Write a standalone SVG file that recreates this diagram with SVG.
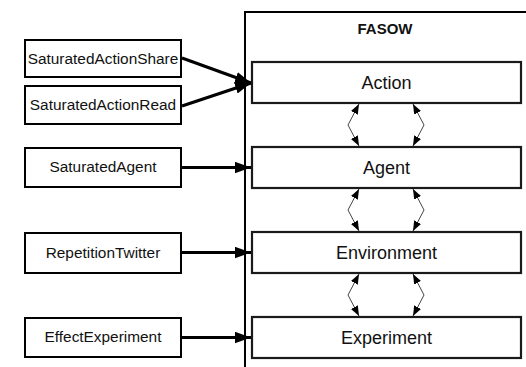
<svg xmlns="http://www.w3.org/2000/svg" width="526" height="367" viewBox="0 0 526 367">
<style>
  .lbox { fill: #fff; stroke: #000; stroke-width: 2; }
  .ibox { fill: #fff; stroke: #1a1a1a; stroke-width: 2.2; }
  .ltxt { font-family: "Liberation Sans", Arial, sans-serif; font-size: 15.4px; fill: #111; text-anchor: middle; }
  .itxt { font-family: "Liberation Sans", Arial, sans-serif; font-size: 18px; fill: #111; text-anchor: middle; }
  .title { font-family: "Liberation Sans", Arial, sans-serif; font-size: 15px; font-weight: bold; fill: #111; text-anchor: middle; }
  .thick { fill: none; stroke: #000; stroke-width: 3; marker-end: url(#big); }
  .thin { fill: none; stroke: #444; stroke-width: 1; marker-start: url(#small); marker-end: url(#small); }
</style>
<defs>
  <marker id="big" viewBox="0 0 14 10" refX="14" refY="5" markerWidth="16" markerHeight="12" markerUnits="userSpaceOnUse" orient="auto">
    <path d="M0,0 L14,5 L0,10 z" fill="#000"/>
  </marker>
  <marker id="small" viewBox="0 0 9 7" refX="9" refY="3.5" markerWidth="10" markerHeight="8" markerUnits="userSpaceOnUse" orient="auto-start-reverse">
    <path d="M0,0 L9,3.5 L0,7 z" fill="#000"/>
  </marker>
</defs>
<rect width="526" height="367" fill="#fff"/>
<g id="fasow">
  <path d="M245,370 L245,12 L530,12" fill="none" stroke="#000" stroke-width="2"/>
  <text class="title" x="385" y="34">FASOW</text>
</g>
<g id="action"><rect class="ibox" x="252" y="62" width="269" height="41"/><text class="itxt" x="386.5" y="89">Action</text></g>
<g id="agent"><rect class="ibox" x="252" y="147" width="269" height="41"/><text class="itxt" x="386.5" y="174">Agent</text></g>
<g id="environment"><rect class="ibox" x="252" y="232" width="269" height="41"/><text class="itxt" x="386.5" y="259">Environment</text></g>
<g id="experiment"><rect class="ibox" x="252" y="317" width="269" height="41"/><text class="itxt" x="386.5" y="344">Experiment</text></g>
<g id="saturatedActionShare"><rect class="lbox" x="25" y="40" width="156" height="37"/><text class="ltxt" x="103" y="64">SaturatedActionShare</text></g>
<g id="saturatedActionRead"><rect class="lbox" x="25" y="86" width="156" height="38"/><text class="ltxt" x="103" y="110">SaturatedActionRead</text></g>
<g id="saturatedAgent"><rect class="lbox" x="25" y="148" width="156" height="39"/><text class="ltxt" x="103" y="172">SaturatedAgent</text></g>
<g id="repetitionTwitter"><rect class="lbox" x="25" y="233" width="156" height="40"/><text class="ltxt" x="103" y="258">RepetitionTwitter</text></g>
<g id="effectExperiment"><rect class="lbox" x="25" y="318" width="156" height="39"/><text class="ltxt" x="103" y="342">EffectExperiment</text></g>
<g id="connectors">
  <path class="thick" d="M182,58 L251,83"/>
  <path class="thick" d="M182,106 L251,83"/>
  <path class="thick" d="M182,167.5 L251,167.5"/>
  <path class="thick" d="M182,252.5 L251,252.5"/>
  <path class="thick" d="M182,337.5 L251,337.5"/>
  <path class="thin" d="M359,104 L348,125 L359,146"/>
  <path class="thin" d="M413,104 L424,125 L413,146"/>
  <path class="thin" d="M359,189 L348,210 L359,231"/>
  <path class="thin" d="M413,189 L424,210 L413,231"/>
  <path class="thin" d="M359,274 L348,295 L359,316"/>
  <path class="thin" d="M413,274 L424,295 L413,316"/>
</g>
</svg>
